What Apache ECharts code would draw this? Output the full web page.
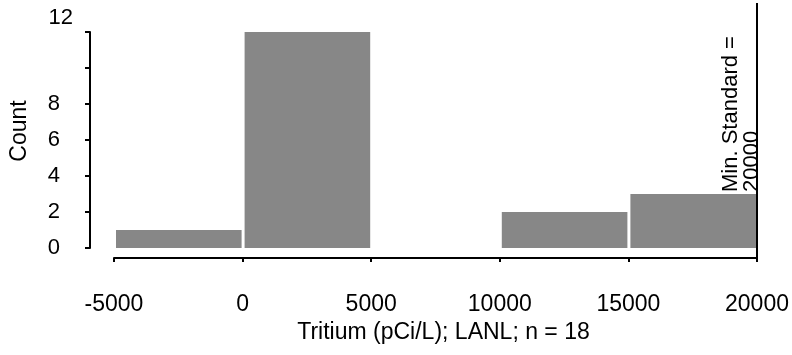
<!DOCTYPE html>
<html>
<head>
<meta charset="utf-8">
<script src="https://cdn.jsdelivr.net/npm/echarts@6/dist/echarts.min.js"></script>
<style>html,body{margin:0;padding:0;background:#fff;}#c{width:792px;height:355px;}</style>
</head>
<body>
<div id="c"></div>
<script>
const binStart = [-5000, 0, 5000, 10000, 15000];
const binEnd = [0, 5000, 10000, 15000, 20000];
const counts = [1, 12, 0, 2, 3];
const xTicks = [-5000, 0, 5000, 10000, 15000, 20000];
const yTicks = [0, 2, 4, 6, 8, 10, 12];
const standardValue = 20000;
const xTitle = 'Tritium (pCi/L); LANL; n = 18';
const yTitle = 'Count';
const standardLabel = 'Min. Standard =\n20000';

const FONT = "'Liberation Sans', Arial, Helvetica, sans-serif";
const chart = echarts.init(document.getElementById('c'), null, {renderer: 'canvas'});
const binData = binStart.map((s, i) => [s, binEnd[i], counts[i]]);

chart.setOption({
  animation: false,
  backgroundColor: '#fff',
  grid: [
    {left: 114, right: 35, top: 32, bottom: 107},
    {left: 114, right: 35, top: 3, bottom: 97}
  ],
  xAxis: [{
    gridIndex: 0, type: 'value', min: xTicks[0], max: xTicks[xTicks.length - 1], interval: 5000,
    offset: 10,
    axisLine: {show: true, onZero: false, lineStyle: {color: '#000', width: 2}},
    axisTick: {show: true, inside: false, length: 4, lineStyle: {color: '#000', width: 2}},
    splitLine: {show: false},
    axisLabel: {color: '#000', fontSize: 23, fontFamily: FONT, margin: 35, formatter: v => String(v)},
    name: xTitle, nameLocation: 'middle', nameGap: 60,
    nameTextStyle: {color: '#000', fontSize: 23, fontFamily: FONT, padding: [0, 0, 0, 16]}
  }, {
    gridIndex: 1, type: 'value', min: xTicks[0], max: xTicks[xTicks.length - 1], show: false
  }],
  yAxis: [{
    gridIndex: 0, type: 'value', min: yTicks[0], max: yTicks[yTicks.length - 1], interval: 2,
    offset: 24,
    axisLine: {show: true, onZero: false, lineStyle: {color: '#000', width: 2}},
    axisTick: {show: true, inside: false, length: 5, lineStyle: {color: '#000', width: 2}},
    splitLine: {show: false},
    axisLabel: {
      margin: 17,
      formatter: v => v === 10 ? '' : (v === 12 ? '{t|' + v + '}' : '{n|' + v + '}'),
      rich: {
        n: {color: '#000', fontSize: 22, fontFamily: FONT, padding: [0, 13, 0, 0]},
        t: {color: '#000', fontSize: 22, fontFamily: FONT, padding: [0, 0, 28, 0]}
      }
    }
  }, {
    gridIndex: 1, type: 'value', min: 0, max: 1, show: false
  }],
  series: [{
    type: 'custom',
    xAxisIndex: 0, yAxisIndex: 0,
    data: binData,
    encode: {x: [0, 1], y: 2},
    renderItem: function (params, api) {
      const s = api.value(0), e = api.value(1), c = api.value(2);
      if (!c) return null;
      const p0 = api.coord([s, c]);
      const p1 = api.coord([e, 0]);
      return {
        type: 'rect',
        shape: {x: p0[0] + 2, y: p0[1], width: p1[0] - p0[0] - 3, height: p1[1] - p0[1]},
        style: {fill: '#878787'}
      };
    }
  }, {
    type: 'line',
    xAxisIndex: 1, yAxisIndex: 1,
    data: [[standardValue, 0], [standardValue, 1]],
    symbol: 'none',
    lineStyle: {color: '#000', width: 2},
    silent: true
  }],
  graphic: [{
    type: 'text',
    x: 20, y: 131,
    rotation: Math.PI / 2,
    style: {
      text: yTitle, fill: '#000', fontSize: 23, fontFamily: FONT,
      align: 'center', verticalAlign: 'middle'
    }
  }, {
    type: 'text',
    x: 741, y: 192,
    rotation: Math.PI / 2,
    style: {
      text: standardLabel,
      fill: '#000',
      fontSize: 22,
      fontFamily: FONT,
      lineHeight: 21,
      align: 'left',
      verticalAlign: 'middle'
    }
  }]
});
</script>
</body>
</html>
